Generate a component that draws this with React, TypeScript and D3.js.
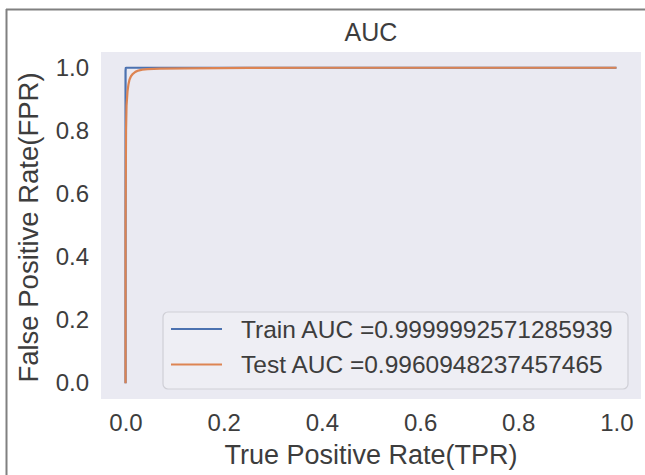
import { useEffect, useRef } from "react";
import * as d3 from "d3";

// ROC points
const trainFpr = [0, 0, 0.0005, 0.002, 0.01, 1.0];
const trainTpr = [0, 0.99, 0.999, 1.0, 1.0, 1.0];

const testFpr = [0, 0, 0.001, 0.002, 0.004, 0.006, 0.008, 0.011, 0.015, 0.02, 0.026, 0.034, 0.045, 0.07, 0.12, 0.25, 0.4, 1.0];
const testTpr = [0, 0.5, 0.8, 0.88, 0.925, 0.948, 0.962, 0.973, 0.981, 0.987, 0.991, 0.994, 0.996, 0.997, 0.998, 0.9995, 1.0, 1.0];

const tickValues = [0, 0.2, 0.4, 0.6, 0.8, 1.0];
const seriesNames = ["Train AUC =0.9999992571285939", "Test AUC =0.9960948237457465"];
const seriesColors = ["#4C72B0", "#DD8452"];

function App() {
    const ref = useRef<SVGSVGElement>(null);

    useEffect(() => {
        drawChart();
    }, []);

    function drawChart() {
        const width = 645, height = 475;
        const plot = { left: 101, right: 641, top: 52, bottom: 399 };
        const font = "'Liberation Sans', Arial, sans-serif";
        const textColor = "#3d3d3d";

        const svg = d3.select(ref.current);
        svg.selectAll("*").remove();
        svg.attr("width", width).attr("height", height);

        // white page + frame on left and top
        svg.append("rect").attr("width", width).attr("height", height).attr("fill", "#fff");
        svg.append("line").attr("x1", 6.5).attr("x2", 6.5).attr("y1", 9).attr("y2", height)
            .attr("stroke", "#808080").attr("stroke-width", 2);
        svg.append("line").attr("x1", 6).attr("x2", width).attr("y1", 9.5).attr("y2", 9.5)
            .attr("stroke", "#808080").attr("stroke-width", 2);

        // 5% margins like matplotlib
        const padX = (plot.right - plot.left) / 1.1 * 0.05;
        const padY = (plot.bottom - plot.top) / 1.1 * 0.05;
        const x = d3.scaleLinear().domain([0, 1]).range([plot.left + padX, plot.right - padX]);
        const y = d3.scaleLinear().domain([0, 1]).range([plot.bottom - padY, plot.top + padY]);

        svg.append("rect")
            .attr("x", plot.left).attr("y", plot.top)
            .attr("width", plot.right - plot.left).attr("height", plot.bottom - plot.top)
            .attr("fill", "#EAEAF2");

        const line = d3.line<[number, number]>().x(d => x(d[0])).y(d => y(d[1]));
        const series = [d3.zip(trainFpr, trainTpr), d3.zip(testFpr, testTpr)] as [number, number][][];

        svg.append("g")
            .selectAll("path")
            .data(series)
            .join("path")
            .attr("d", d => line(d))
            .attr("fill", "none")
            .attr("stroke", (d, i) => seriesColors[i])
            .attr("stroke-width", 2.2)
            .attr("stroke-linejoin", "round");

        // axes (no tick marks)
        svg.append("g")
            .attr("transform", `translate(0,${plot.bottom})`)
            .call(d3.axisBottom(x).tickValues(tickValues).tickFormat(d3.format(".1f")).tickSize(0).tickPadding(15))
            .call(g => g.select(".domain").remove())
            .call(g => g.selectAll("text").attr("font-size", 24).attr("font-family", font).attr("fill", textColor));

        svg.append("g")
            .attr("transform", `translate(${plot.left},0)`)
            .call(d3.axisLeft(y).tickValues(tickValues).tickFormat(d3.format(".1f")).tickSize(0).tickPadding(12))
            .call(g => g.select(".domain").remove())
            .call(g => g.selectAll("text").attr("font-size", 24).attr("font-family", font).attr("fill", textColor));

        // title and axis labels
        svg.append("text")
            .attr("x", (plot.left + plot.right) / 2).attr("y", 41)
            .attr("text-anchor", "middle").attr("font-family", font).attr("font-size", 25)
            .attr("fill", textColor).text("AUC");

        svg.append("text")
            .attr("x", (plot.left + plot.right) / 2).attr("y", 464)
            .attr("text-anchor", "middle").attr("font-family", font).attr("font-size", 27)
            .attr("fill", textColor).text("True Positive Rate(TPR)");

        svg.append("text")
            .attr("transform", `translate(38,${(plot.top + plot.bottom) / 2 + 2}) rotate(-90)`)
            .attr("text-anchor", "middle").attr("font-family", font).attr("font-size", 27.5)
            .attr("fill", textColor).text("False Positive Rate(FPR)");

        // legend
        const legend = svg.append("g").attr("transform", "translate(163,312)");
        legend.append("rect")
            .attr("width", 465).attr("height", 77).attr("rx", 5)
            .attr("fill", "#EEEEF4").attr("stroke", "#cfcfd6").attr("stroke-width", 1.2);
        const item = legend.selectAll("g.item")
            .data(seriesNames)
            .join("g")
            .attr("class", "item")
            .attr("transform", (d, i) => `translate(0,${17 + i * 35.5})`);
        item.append("line")
            .attr("x1", 8).attr("x2", 59)
            .attr("stroke", (d, i) => seriesColors[i]).attr("stroke-width", 2.2);
        item.append("text")
            .attr("x", 78).attr("y", 8.5)
            .attr("font-family", font).attr("font-size", 24.5)
            .attr("fill", textColor).text(d => d);
    }

    return <svg ref={ref} style={{ position: "absolute", left: 0, top: 0 }} />;
}

export default App;
